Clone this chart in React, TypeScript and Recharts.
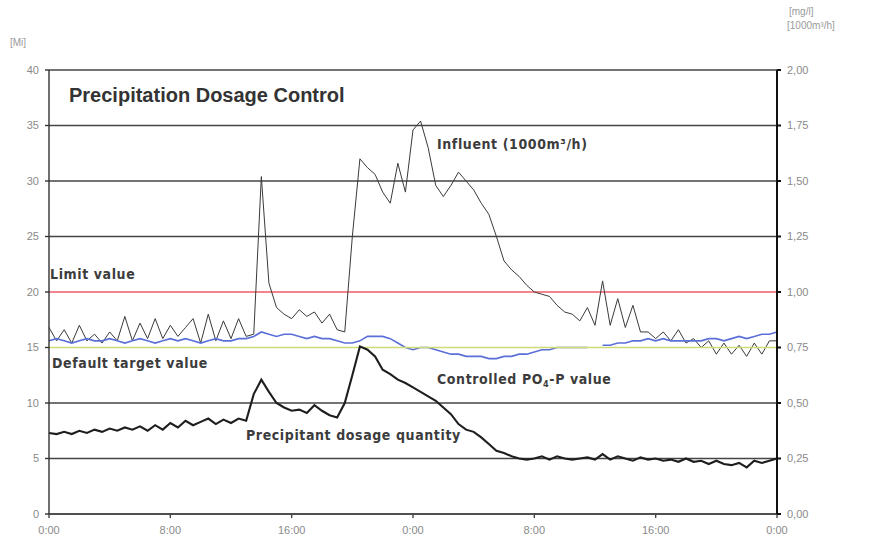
import React from "react";
import { ComposedChart, Line, XAxis, YAxis, CartesianGrid, ReferenceLine } from "recharts";

// time grid: one reading every half hour over two days
const STEP_HOURS = 0.5;
const xTicks = [0, 8, 16, 24, 32, 40, 48];
const xTickLabels = ["0:00", "8:00", "16:00", "0:00", "8:00", "16:00", "0:00"];
const leftTicks = [0, 5, 10, 15, 20, 25, 30, 35, 40];
const rightTicks = [0, 0.25, 0.5, 0.75, 1, 1.25, 1.5, 1.75, 2];
// grey grid rows; 15 and 20 are covered by the target and limit lines
const gridRows = [0, 5, 10, 25, 30, 35, 40];

// influent, 1000 m³/h (right axis)
const influent = [
  0.84, 0.78, 0.83, 0.77, 0.85, 0.78, 0.81, 0.77, 0.82, 0.78, 0.89, 0.78, 0.86, 0.79, 0.88, 0.79,
  0.85, 0.8, 0.84, 0.88, 0.77, 0.9, 0.78, 0.87, 0.79, 0.88, 0.8, 0.81, 1.52, 1.04, 0.93, 0.9,
  0.88, 0.92, 0.89, 0.91, 0.86, 0.9, 0.83, 0.82, 1.25, 1.6, 1.56, 1.53, 1.45, 1.4, 1.58, 1.45,
  1.73, 1.77, 1.65, 1.48, 1.43, 1.48, 1.54, 1.5, 1.46, 1.4, 1.35, 1.25, 1.14, 1.1, 1.07, 1.03,
  1.0, 0.99, 0.98, 0.94, 0.91, 0.9, 0.87, 0.93, 0.85, 1.05, 0.85, 0.97, 0.84, 0.94, 0.82, 0.82,
  0.79, 0.82, 0.78, 0.83, 0.77, 0.79, 0.75, 0.78, 0.72, 0.77, 0.72, 0.76, 0.71, 0.77, 0.72, 0.78,
  0.78,
];

// controlled PO4-P, mg/l (right axis)
const po4 = [
  0.78, 0.79, 0.78, 0.77, 0.78, 0.79, 0.78, 0.78, 0.79, 0.78, 0.77, 0.78, 0.79, 0.78, 0.77, 0.78,
  0.79, 0.78, 0.79, 0.78, 0.77, 0.78, 0.79, 0.78, 0.78, 0.79, 0.79, 0.8, 0.82, 0.81, 0.8, 0.81,
  0.81, 0.8, 0.79, 0.8, 0.79, 0.79, 0.78, 0.77, 0.77, 0.78, 0.8, 0.8, 0.8, 0.79, 0.77, 0.75,
  0.74, 0.75, 0.75, 0.74, 0.73, 0.72, 0.72, 0.71, 0.71, 0.71, 0.7, 0.7, 0.71, 0.71, 0.72, 0.72,
  0.73, 0.74, 0.74, 0.75, 0.75, 0.75, 0.75, 0.75, null, 0.76, 0.76, 0.77, 0.77, 0.78, 0.78, 0.79,
  0.78, 0.79, 0.78, 0.78, 0.78, 0.78, 0.78, 0.79, 0.79, 0.78, 0.79, 0.8, 0.79, 0.8, 0.81, 0.81,
  0.82,
];

// precipitant dosage quantity (left axis)
const dosage = [
  7.3, 7.2, 7.4, 7.2, 7.5, 7.3, 7.6, 7.4, 7.7, 7.5, 7.8, 7.6, 7.9, 7.5, 8.0, 7.6,
  8.2, 7.8, 8.4, 8.0, 8.3, 8.6, 8.1, 8.5, 8.2, 8.6, 8.4, 10.8, 12.1, 11.0, 10.0, 9.6,
  9.3, 9.4, 9.1, 9.8, 9.3, 8.9, 8.7, 10.0, 12.5, 15.1, 14.8, 14.2, 13.0, 12.6, 12.1, 11.8,
  11.4, 11.0, 10.6, 10.2, 9.6, 9.0, 8.1, 7.6, 7.4, 6.9, 6.3, 5.7, 5.5, 5.2, 5.0, 4.9,
  5.0, 5.2, 4.9, 5.2, 5.0, 4.9, 5.0, 5.1, 4.9, 5.4, 4.9, 5.2, 5.0, 4.8, 5.1, 4.9,
  5.0, 4.8, 4.9, 4.7, 5.0, 4.7, 4.8, 4.5, 4.8, 4.5, 4.4, 4.6, 4.2, 4.8, 4.6, 4.8,
  5.0,
];

const LIMIT_VALUE = 1.0;
const TARGET_VALUE = 0.75;

const data = influent.map((v, i) => ({
  h: i * STEP_HOURS,
  influent: v,
  po4: po4[i],
  dosage: dosage[i],
}));

const labelFont: React.CSSProperties = {
  position: "absolute",
  fontFamily: "'DejaVu Sans Condensed', 'DejaVu Sans', sans-serif",
  fontStretch: "condensed",
  fontWeight: "bold",
  fontSize: 14,
  letterSpacing: 0.6,
  color: "#3c3c3c",
  whiteSpace: "nowrap",
  lineHeight: "16px",
};

const unitFont: React.CSSProperties = {
  position: "absolute",
  fontFamily: "'Liberation Sans', Arial, sans-serif",
  fontSize: 10,
  color: "#9a9a9a",
  whiteSpace: "nowrap",
};

export default function App() {
  const tickStyle = { fill: "#8a8a8a", fontSize: 11, fontFamily: "'Liberation Sans', Arial, sans-serif" };

  return (
    <div style={{ position: "absolute", left: 0, top: 0, width: 873, height: 544, background: "#fff" }}>
      <ComposedChart width={873} height={544} data={data} margin={{ top: 70, right: 36, bottom: 0, left: 19 }}>
        <CartesianGrid
          yAxisId="left"
          vertical={false}
          horizontalValues={gridRows}
          stroke="#454545"
          strokeWidth={1.4}
        />
        <XAxis
          dataKey="h"
          type="number"
          domain={[0, 48]}
          ticks={xTicks}
          tickFormatter={(v) => xTickLabels[xTicks.indexOf(v)]}
          tick={tickStyle}
          tickSize={4}
          tickMargin={8}
          height={30}
          stroke="#444"
          strokeWidth={1.4}
        />
        <YAxis
          yAxisId="left"
          domain={[0, 40]}
          ticks={leftTicks}
          tick={tickStyle}
          tickSize={4}
          tickMargin={6}
          width={30}
          stroke="#333"
          strokeWidth={1.4}
        />
        <YAxis
          yAxisId="right"
          orientation="right"
          domain={[0, 2]}
          ticks={rightTicks}
          tickFormatter={(v) => v.toFixed(2).replace(".", ",")}
          tick={{ ...tickStyle, textAnchor: "start" }}
          tickSize={4}
          tickMargin={6}
          width={60}
          stroke="#111"
          strokeWidth={2}
        />
        <ReferenceLine yAxisId="right" y={LIMIT_VALUE} stroke="#ee5c68" strokeWidth={1.6} />
        <Line
          yAxisId="right"
          dataKey="influent"
          type="linear"
          stroke="#3a3a3a"
          strokeWidth={1}
          dot={false}
          isAnimationActive={false}
        />
        <Line
          yAxisId="right"
          dataKey="po4"
          type="linear"
          stroke="#5b6fd8"
          strokeWidth={1.6}
          dot={false}
          isAnimationActive={false}
        />
        <ReferenceLine yAxisId="right" y={TARGET_VALUE} stroke="#cddc74" strokeWidth={1.4} />
        <Line
          yAxisId="left"
          dataKey="dosage"
          type="linear"
          stroke="#1e1e1e"
          strokeWidth={2.1}
          dot={false}
          isAnimationActive={false}
        />
      </ComposedChart>

      <div style={{ ...unitFont, left: 10, top: 37 }}>[Mi]</div>
      <div style={{ ...unitFont, left: 789, top: 6 }}>[mg/l]</div>
      <div style={{ ...unitFont, left: 787, top: 20 }}>[1000m³/h]</div>

      <div
        style={{
          position: "absolute",
          left: 69,
          top: 84,
          fontFamily: "'Liberation Sans', Arial, sans-serif",
          fontWeight: "bold",
          fontSize: 20,
          color: "#333",
          whiteSpace: "nowrap",
        }}
      >
        Precipitation Dosage Control
      </div>

      <div style={{ ...labelFont, left: 437, top: 136 }}>Influent (1000m³/h)</div>
      <div style={{ ...labelFont, left: 50, top: 266 }}>Limit value</div>
      <div style={{ ...labelFont, left: 52, top: 355 }}>Default target value</div>
      <div style={{ ...labelFont, left: 437, top: 371 }}>
        Controlled PO<span style={{ fontSize: 9, verticalAlign: -3 }}>4</span>-P value
      </div>
      <div style={{ ...labelFont, left: 246, top: 427 }}>Precipitant dosage quantity</div>
    </div>
  );
}
